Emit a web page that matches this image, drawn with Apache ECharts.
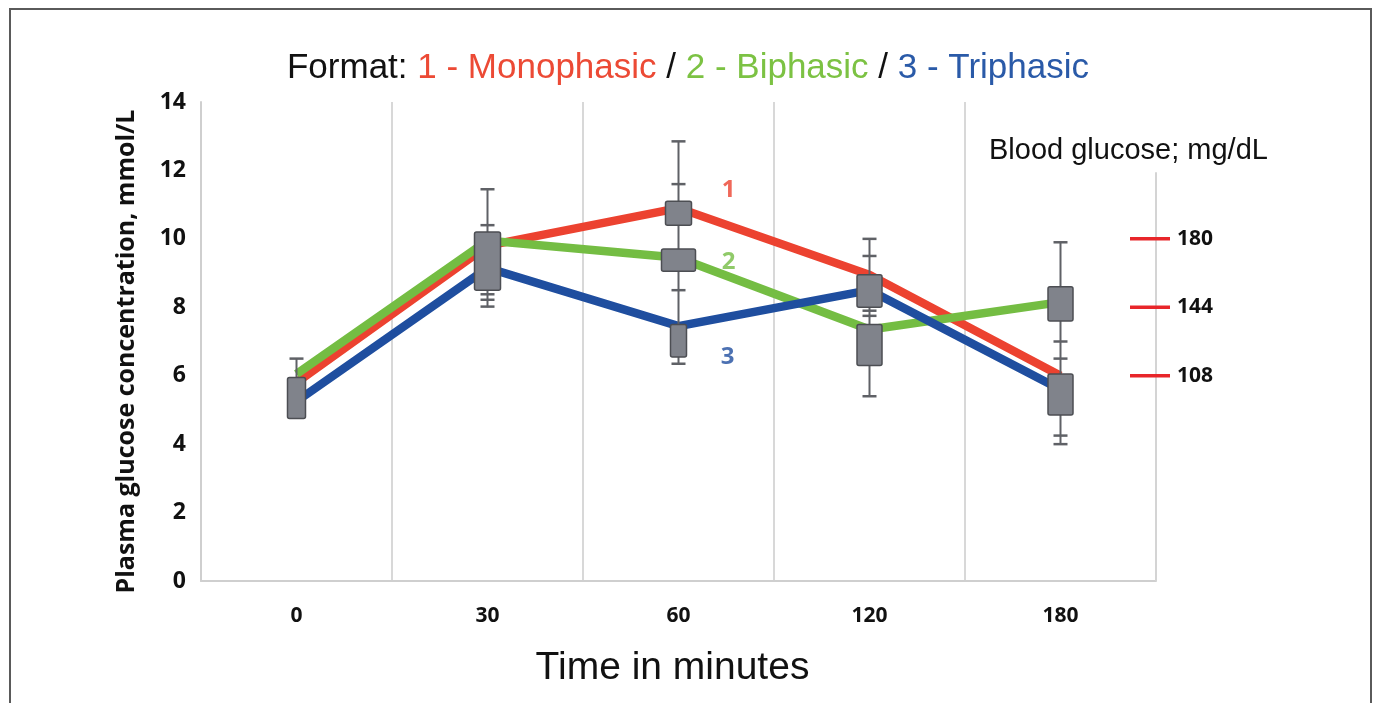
<!DOCTYPE html>
<html>
<head>
<meta charset="utf-8">
<script src="https://cdn.jsdelivr.net/npm/echarts@6/dist/echarts.min.js"></script>
<style>
html,body{margin:0;padding:0;background:#fff;overflow:hidden;}
#frame{position:absolute;left:9px;top:8px;width:1363px;height:720px;border:2px solid #5a5a5a;box-sizing:border-box;z-index:10;pointer-events:none;}
#chart{position:absolute;left:0;top:0;width:1376px;height:703px;}
</style>
</head>
<body>
<div id="chart"></div>
<div id="frame"></div>
<script>
// ---- data ----
const categories = ['0', '30', '60', '120', '180'];
const seriesNames = ['1 - Monophasic', '2 - Biphasic', '3 - Triphasic'];
const seriesTags = ['1', '2', '3'];
const monophasic = [5.8, 9.8, 10.9, 8.95, 6.0];
const biphasic = [6.05, 9.95, 9.45, 7.35, 8.15];
const triphasic = [5.25, 9.15, 7.45, 8.5, 5.6];
// boxes: [categoryIndex, low, high]
const boxes = [
  [0, 4.75, 5.95],
  [1, 8.5, 10.2],
  [2, 10.4, 11.1],
  [2, 9.05, 9.7],
  [2, 6.55, 7.5],
  [3, 8.0, 8.95],
  [3, 6.3, 7.5],
  [4, 7.6, 8.6],
  [4, 4.85, 6.05]
];
// whiskers: [categoryIndex, low, high]
const whiskers = [
  [0, 5.95, 6.5],
  [1, 8.0, 11.45],
  [2, 6.35, 12.85],
  [3, 5.4, 10.0],
  [4, 4.0, 9.9]
];
// whisker caps: [categoryIndex, value]
const caps = [
  [0, 6.5],
  [1, 11.45], [1, 10.4], [1, 8.38], [1, 8.22], [1, 8.02],
  [2, 12.85], [2, 11.6], [2, 8.5], [2, 6.35],
  [3, 10.0], [3, 9.5], [3, 7.9], [3, 7.75], [3, 5.4],
  [4, 9.9], [4, 7.0], [4, 6.5], [4, 4.25], [4, 4.0]
];
const leftTicks = { min: 0, max: 14, interval: 2 };
const rightTickLabels = [108, 144, 180];   // mg/dL
const mgPerMmol = 18;

// ---- styles ----
const COLORS = ['#ec4230', '#74bd43', '#1f4e9f'];
const TITLE_COLORS = ['#ec4a35', '#7cc243', '#2a5aa8'];
const boxWidths = [18, 26, 26, 34, 16, 25, 25, 25, 25];
const tagOffsets = [[50, -18], [50, 4], [49, 31]];
const rightAxisTopMg = 215;
const NARROW = "'Liberation Sans Narrow','Arial Narrow','Liberation Sans',Arial,sans-serif";
const SANS = "'Liberation Sans',Arial,sans-serif";
const BOLD = "'Open Sans','Noto Sans',sans-serif";

const chart = echarts.init(document.getElementById('chart'), null, { renderer: 'canvas' });

const lineData = [monophasic, biphasic, triphasic];

const lineSeries = lineData.map((vals, k) => ({
  name: seriesNames[k],
  type: 'line',
  data: vals,
  symbol: 'none',
  lineStyle: { color: COLORS[k], width: 8.5, cap: 'butt', join: 'miter' },
  z: 2,
  silent: true
}));

const tagSeries = lineData.map((vals, k) => ({
  type: 'scatter',
  data: [[2, vals[2]]],
  symbolSize: 0,
  silent: true,
  z: 6,
  label: {
    show: true, position: 'inside', offset: tagOffsets[k],
    formatter: seriesTags[k],
    color: COLORS[k], fontFamily: BOLD, fontWeight: 700, fontSize: 24
  }
}));

const richBase = { fontSize: 35, fontFamily: SANS, fontWeight: 'normal' };

const option = {
  animation: false,
  backgroundColor: '#ffffff',
  title: [
    {
      left: 'center', top: 46,
      text: '{k|Format: }{r|' + seriesNames[0] + '}{k| / }{g|' + seriesNames[1] + '}{k| / }{b|' + seriesNames[2] + '}',
      textStyle: {
        fontWeight: 'normal',
        rich: {
          k: Object.assign({ color: '#111' }, richBase),
          r: Object.assign({ color: TITLE_COLORS[0] }, richBase),
          g: Object.assign({ color: TITLE_COLORS[1] }, richBase),
          b: Object.assign({ color: TITLE_COLORS[2] }, richBase)
        }
      }
    },
    {
      left: 984, top: 131,
      text: 'Blood glucose; mg/dL',
      textStyle: { color: '#111', fontSize: 29, fontWeight: 'normal', fontFamily: SANS }
    }
  ],
  grid: { left: 201, right: 220, top: 102, bottom: 122, containLabel: false },
  xAxis: {
    type: 'category',
    data: categories,
    boundaryGap: true,
    axisLine: { show: true, lineStyle: { color: '#cfcfcf', width: 2 } },
    axisTick: { show: false },
    axisLabel: { color: '#111', fontFamily: BOLD, fontWeight: 700, fontSize: 21, margin: 25 },
    splitLine: { show: true, showMinLine: false, showMaxLine: false, lineStyle: { color: '#d8d8d8', width: 2 } },
    name: 'Time in minutes',
    nameLocation: 'middle',
    nameGap: 68,
    nameTextStyle: { color: '#111', fontSize: 39, fontFamily: NARROW, padding: [0, 12, 0, 0] }
  },
  yAxis: [
    {
      type: 'value',
      min: leftTicks.min, max: leftTicks.max, interval: leftTicks.interval,
      axisLine: { show: true, lineStyle: { color: '#cfcfcf', width: 2 } },
      axisTick: { show: false },
      splitLine: { show: false },
      axisLabel: { color: '#111', fontFamily: BOLD, fontWeight: 700, fontSize: 23, margin: 15 },
      name: 'Plasma glucose concentration, mmol/L',
      nameLocation: 'middle',
      nameGap: 62,
      nameTextStyle: { color: '#111', fontFamily: BOLD, fontWeight: 700, fontSize: 25, padding: [0, 20, 0, 0] }
    },
    {
      type: 'value',
      position: 'right',
      min: leftTicks.min * mgPerMmol, max: leftTicks.max * mgPerMmol, interval: 36,
      axisLine: { show: false },
      axisTick: { show: false },
      splitLine: { show: false },
      axisLabel: {
        color: '#111', fontFamily: BOLD, fontWeight: 700, fontSize: 21, margin: 21,
        formatter: v => rightTickLabels.includes(v) ? String(v) : ''
      }
    }
  ],
  series: [
    ...lineSeries,
    {
      type: 'custom',
      name: 'whiskers',
      silent: true,
      z: 3,
      data: whiskers,
      renderItem: (params, api) => {
        const a = api.coord([api.value(0), api.value(1)]);
        const b = api.coord([api.value(0), api.value(2)]);
        return {
          type: 'line',
          shape: { x1: a[0], y1: a[1], x2: b[0], y2: b[1] },
          style: { stroke: '#5f6166', lineWidth: 2 }
        };
      }
    },
    {
      type: 'custom',
      name: 'caps',
      silent: true,
      z: 3,
      data: caps,
      renderItem: (params, api) => {
        const p = api.coord([api.value(0), api.value(1)]);
        return {
          type: 'line',
          shape: { x1: p[0] - 7, y1: p[1], x2: p[0] + 7, y2: p[1] },
          style: { stroke: '#5f6166', lineWidth: 2.5 }
        };
      }
    },
    {
      type: 'custom',
      name: 'boxes',
      silent: true,
      z: 4,
      data: boxes,
      renderItem: (params, api) => {
        const lo = api.coord([api.value(0), api.value(1)]);
        const hi = api.coord([api.value(0), api.value(2)]);
        const w = boxWidths[params.dataIndex];
        return {
          type: 'rect',
          shape: { x: lo[0] - w / 2, y: hi[1], width: w, height: lo[1] - hi[1], r: 2 },
          style: { fill: '#80838b', stroke: '#4c4e53', lineWidth: 1.5 }
        };
      }
    },
    {
      type: 'custom',
      name: 'rightTicks',
      silent: true,
      yAxisIndex: 1,
      z: 5,
      data: rightTickLabels.map(v => [0, v]),
      renderItem: (params, api) => {
        const cs = params.coordSys;
        const xr = cs.x + cs.width;
        const y = api.coord([0, api.value(1)])[1];
        const children = [{
          type: 'line',
          shape: { x1: xr - 26, y1: y, x2: xr + 14, y2: y },
          style: { stroke: '#e8262a', lineWidth: 3.5 }
        }];
        if (params.dataIndex === 0) {
          const top = api.coord([0, rightAxisTopMg])[1];
          children.unshift({
            type: 'line',
            shape: { x1: xr, y1: top, x2: xr, y2: cs.y + cs.height },
            style: { stroke: '#d4d4d4', lineWidth: 2 }
          });
        }
        return { type: 'group', children };
      }
    },
    ...tagSeries
  ]
};

chart.setOption(option);
</script>
</body>
</html>
